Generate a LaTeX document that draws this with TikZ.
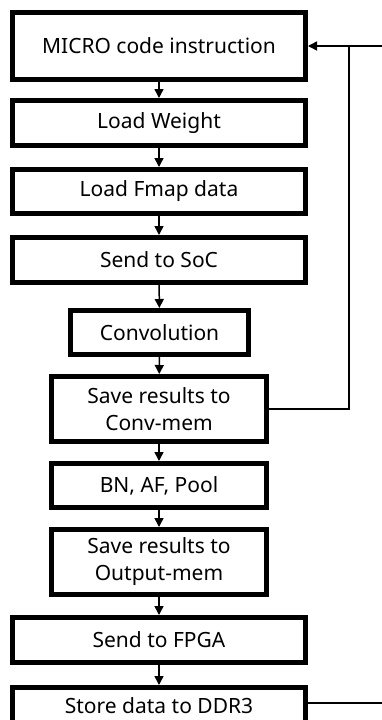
\documentclass[tikz,border=0pt]{standalone}
\usepackage{fontspec}
\setmainfont{Noto Sans}
\usetikzlibrary{arrows.meta,positioning}

\begin{document}
\begin{tikzpicture}[
    x=1pt,
    y=-1pt,
    >={Triangle[width=9pt,length=9pt]},
    font=\fontsize{21}{27}\selectfont,
    line cap=butt,
    stepbox/.style={draw, line width=5pt, align=center, inner sep=0pt},
    widebox/.style={stepbox, minimum width=293pt},
    midbox/.style={stepbox, minimum width=215pt},
    flow/.style={->, line width=1.5pt},
    loopline/.style={line width=1.5pt}
]

\clip (0,0) rectangle (382,720);

% steps
\node[widebox, minimum height=67pt] (micro) at (159,46)
    {MICRO code instruction};
\node[widebox, minimum height=45pt] (weight) at (159,123)
    {Load Weight};
\node[widebox, minimum height=44pt] (fmap) at (159,191.5)
    {Load Fmap data};
\node[widebox, minimum height=45pt] (soc) at (159,260)
    {Send to SoC};
\node[stepbox, minimum width=178pt, minimum height=44pt] (conv) at (159.5,332.5)
    {Convolution};
\node[midbox, minimum height=65pt] (convmem) at (159,409)
    {Save results to\\Conv-mem};
\node[midbox, minimum height=44pt] (bnpool) at (159,485.5)
    {BN, AF, Pool};
\node[midbox, minimum height=65pt] (outmem) at (159,562)
    {Save results to\\Output-mem};
\node[widebox, minimum height=45pt] (fpga) at (159,640)
    {Send to FPGA};
\node[widebox, minimum height=37pt] (ddr) at (159,706)
    {Store data to DDR3};

% arrows
\draw[flow] (micro) -- (weight);
\draw[flow] (weight) -- (fmap);
\draw[flow] (fmap) -- (soc);
\draw[flow] (soc) -- (conv);
\draw[flow] (conv) -- (convmem);
\draw[flow] (convmem) -- (bnpool);
\draw[flow] (bnpool) -- (outmem);
\draw[flow] (outmem) -- (fpga);
\draw[flow] (fpga) -- (ddr);

% loop back
\coordinate (loopin) at (382,46);
\coordinate (tee) at (349,46);
\coordinate (loopout) at (382,703);

\draw[flow] (loopin) -- (micro.east);
\draw[loopline] (convmem.east) -| (tee);
\draw[loopline] (ddr.east |- loopout) -- (loopout);

\end{tikzpicture}
\end{document}
